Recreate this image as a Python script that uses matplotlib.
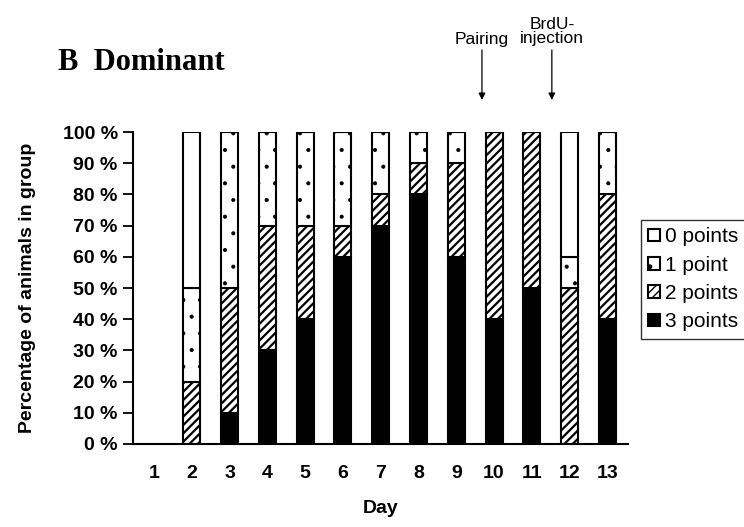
import numpy as np
from matplotlib import pyplot as plt
from matplotlib import transforms

plt.rcParams['font.family'] = ['Liberation Sans', 'DejaVu Sans']

days = [str(d) for d in range(1, 14)]
# percent of animals per score, day 1 has no data
three_pts = [np.nan, 0, 10, 30, 40, 60, 70, 80, 60, 40, 50, 0, 40]
two_pts = [np.nan, 20, 40, 40, 30, 10, 10, 10, 30, 60, 50, 50, 40]
one_pt = [np.nan, 30, 50, 30, 30, 30, 20, 10, 10, 0, 0, 10, 20]
zero_pts = [np.nan, 50, 0, 0, 0, 0, 0, 0, 0, 0, 0, 40, 0]
series_names = ["3 points", "2 points", "1 point", "0 points"]
y_ticks = [0, 10, 20, 30, 40, 50, 60, 70, 80, 90, 100]

fig = plt.figure(figsize=(7.44, 5.27), dpi=100)
ax = fig.add_axes([0.1788, 0.1575, 0.665, 0.592])

x = np.arange(1, len(days) + 1)
styles = [
    dict(color="black", hatch=None, hlw=1.0),
    dict(color="white", hatch="////", hlw=1.6),
    dict(color="white", hatch=".", hlw=0.5),
    dict(color="white", hatch=None, hlw=1.0),
]
bottom = np.zeros(len(days))
handles = []
for vals, name, st in zip([three_pts, two_pts, one_pt, zero_pts], series_names, styles):
    vals = np.array(vals, dtype=float)
    with plt.rc_context({"hatch.linewidth": st["hlw"]}):
        b = ax.bar(x, vals, 0.45, bottom=bottom, color=st["color"], hatch=st["hatch"],
                   edgecolor="black", linewidth=1.5, label=name)
    for p in b:
        if hasattr(p, "set_hatch_linewidth"):
            p.set_hatch_linewidth(st["hlw"])
    handles.append(b)
    bottom = bottom + vals

ax.set_xlim(0.444, 13.54)
ax.set_ylim(0, 100)
ax.set_xticks(x)
ax.set_xticklabels(days, fontsize=14, fontweight="bold")
ax.set_yticks(y_ticks)
ax.set_yticklabels(["%d %%" % v for v in y_ticks], fontsize=14, fontweight="bold")
ax.tick_params(axis="x", length=0, pad=15)
ax.tick_params(axis="y", direction="out", length=7, width=1.3, pad=4)
ax.spines["top"].set_visible(False)
ax.spines["right"].set_visible(False)
ax.spines["left"].set_linewidth(1.5)
ax.spines["bottom"].set_linewidth(1.5)
ax.set_xlabel("Day", fontsize=14, fontweight="bold", labelpad=13)
ax.set_ylabel("Percentage of animals in group", fontsize=14, fontweight="bold")
ax.yaxis.set_label_coords(-0.196, 0.5)

fig.text(0.078, 0.882, "B  Dominant", fontsize=22, fontweight="bold",
         family="Liberation Serif", va="center", ha="left")

trans = transforms.blended_transform_factory(ax.transData, ax.transAxes)
for xp, label, ty in [(9.68, "Pairing", 1.298), (11.53, "BrdU-\ninjection", 1.322)]:
    ax.annotate("", xy=(xp, 1.1026), xytext=(xp, 1.263), xycoords=trans, textcoords=trans,
                arrowprops=dict(arrowstyle="-|>", color="black", lw=0.9,
                                mutation_scale=10, shrinkA=0, shrinkB=0))
    ax.text(xp, ty, label, transform=trans, ha="center", va="center",
            fontsize=12.5, linespacing=0.95)

leg = fig.legend(handles[::-1], series_names[::-1], loc="upper left",
                 bbox_to_anchor=(0.8616, 0.5825), fontsize=15, frameon=True,
                 fancybox=False, edgecolor="black", handlelength=0.55,
                 handleheight=0.55, handletextpad=0.25, labelspacing=0.45,
                 borderpad=0.35, borderaxespad=0)
leg.get_frame().set_linewidth(1.0)

fig.savefig("out.png", dpi=100)
